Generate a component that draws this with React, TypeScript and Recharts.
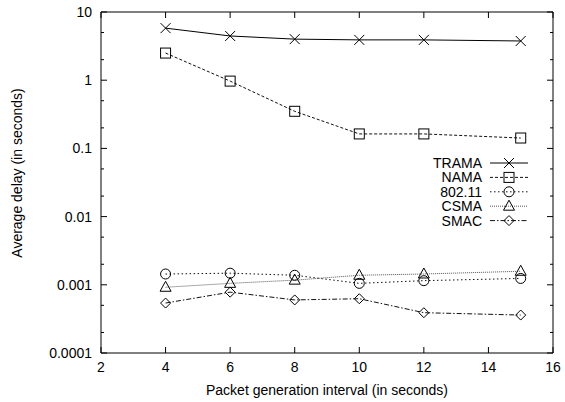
import { LineChart, Line, XAxis, YAxis, ReferenceLine, Legend } from 'recharts';

const intervals = [4, 6, 8, 10, 12, 15];
const tramaDelay = [5.8, 4.45, 4.0, 3.9, 3.9, 3.76];
const namaDelay = [2.5, 0.97, 0.35, 0.163, 0.163, 0.142];
const ieeeDelay = [0.00144, 0.00148, 0.00138, 0.00105, 0.00115, 0.00124];
const csmaDelay = [0.00092, 0.00105, 0.00117, 0.00138, 0.00144, 0.00158];
const smacDelay = [0.00054, 0.00078, 0.0006, 0.000625, 0.00039, 0.00036];

const xTicks = [2, 4, 6, 8, 10, 12, 14, 16];
const yMajorTicks = [0.0001, 0.001, 0.01, 0.1, 1, 10];
const yMajorLabels = ['0.0001', '0.001', '0.01', '0.1', '1', '10'];
const yMinorTicks = [0.0002, 0.0005, 0.002, 0.005, 0.02, 0.05, 0.2, 0.5, 2, 5];

const data = intervals.map((x, i) => ({
  x,
  trama: tramaDelay[i],
  nama: namaDelay[i],
  ieee: ieeeDelay[i],
  csma: csmaDelay[i],
  smac: smacDelay[i],
}));

const series = [
  { key: 'trama', name: 'TRAMA', dash: undefined, color: '#000', shape: 'cross' },
  { key: 'nama', name: 'NAMA', dash: '3 2', color: '#111', shape: 'square' },
  { key: 'ieee', name: '802.11', dash: '1.5 2.5', color: '#111', shape: 'circle' },
  { key: 'csma', name: 'CSMA', dash: '1 1', color: '#555', shape: 'triangle' },
  { key: 'smac', name: 'SMAC', dash: '5 2 1.5 2', color: '#111', shape: 'diamond' },
];

// plot box in svg pixels, used for the inward gnuplot-style ticks
const LEFT = 101;
const RIGHT = 553;
const TOP = 12;
const BOTTOM = 353;
const FONT = '"Liberation Sans", Arial, sans-serif';

function Marker({ cx, cy, shape }: { cx: number; cy: number; shape: string }) {
  const s = 5;
  const common = { fill: 'none', stroke: '#000', strokeWidth: 1 };
  if (shape === 'cross')
    return (
      <g {...common}>
        <line x1={cx - s} y1={cy - s} x2={cx + s} y2={cy + s} />
        <line x1={cx - s} y1={cy + s} x2={cx + s} y2={cy - s} />
      </g>
    );
  if (shape === 'square') return <rect x={cx - s} y={cy - s} width={2 * s} height={2 * s} {...common} />;
  if (shape === 'circle') return <circle cx={cx} cy={cy} r={s} {...common} />;
  if (shape === 'triangle')
    return <polygon points={`${cx},${cy - s - 1} ${cx + s + 0.5},${cy + s - 1} ${cx - s - 0.5},${cy + s - 1}`} {...common} />;
  return <polygon points={`${cx},${cy - s} ${cx + s},${cy} ${cx},${cy + s} ${cx - s},${cy}`} {...common} />;
}

function XTick(props: any) {
  const { x, payload } = props;
  return (
    <g>
      <line x1={x} y1={BOTTOM} x2={x} y2={BOTTOM - 6} stroke="#000" />
      <line x1={x} y1={TOP} x2={x} y2={TOP + 6} stroke="#000" />
      <text x={x} y={BOTTOM + 19} textAnchor="middle" fontSize={14} fontFamily={FONT} fill="#000">
        {payload.value}
      </text>
    </g>
  );
}

function YTick(props: any) {
  const { y, payload } = props;
  const idx = yMajorTicks.indexOf(payload.value);
  const len = idx >= 0 ? 6 : 3;
  return (
    <g>
      <line x1={LEFT} y1={y} x2={LEFT + len} y2={y} stroke="#000" />
      <line x1={RIGHT} y1={y} x2={RIGHT - len} y2={y} stroke="#000" />
      {idx >= 0 && (
        <text x={LEFT - 9} y={y + 5} textAnchor="end" fontSize={14} fontFamily={FONT} fill="#000">
          {yMajorLabels[idx]}
        </text>
      )}
    </g>
  );
}

function LegendBox() {
  return (
    <svg width={140} height={80} style={{ display: 'block' }}>
      {series.map((s, i) => {
        const y = 8 + i * 14.4;
        return (
          <g key={s.key}>
            <text x={82} y={y + 5} textAnchor="end" fontSize={14} fontFamily={FONT} fill="#000">
              {s.name}
            </text>
            <line x1={90} y1={y} x2={128} y2={y} stroke={s.color} strokeDasharray={s.dash} />
            <Marker cx={109} cy={y} shape={s.shape} />
          </g>
        );
      })}
    </svg>
  );
}

export default function App() {
  return (
    <div style={{ position: 'absolute', left: 0, top: 0, width: 565, height: 402, background: '#fff' }}>
      <LineChart width={565} height={402} data={data} margin={{ top: 12, right: 12, left: 0, bottom: 0 }}>
        <XAxis
          dataKey="x"
          type="number"
          domain={[2, 16]}
          ticks={xTicks}
          interval={0}
          height={49}
          tickSize={0}
          tickMargin={0}
          tick={<XTick />}
          axisLine={{ stroke: '#000' }}
          label={() => (
            <text x={327} y={395} textAnchor="middle" fontSize={14} fontFamily={FONT} fill="#000">
              Packet generation interval (in seconds)
            </text>
          )}
        />
        <YAxis
          type="number"
          scale="log"
          domain={[0.0001, 10]}
          allowDataOverflow
          ticks={[...yMajorTicks, ...yMinorTicks].sort((a, b) => a - b)}
          interval={0}
          width={101}
          tickSize={0}
          tickMargin={0}
          tick={<YTick />}
          axisLine={{ stroke: '#000' }}
          label={() => (
            <text
              x={22}
              y={173}
              transform="rotate(-90 22 173)"
              textAnchor="middle"
              fontSize={14}
              fontFamily={FONT}
              fill="#000"
            >
              Average delay (in seconds)
            </text>
          )}
        />
        <ReferenceLine y={10} stroke="#000" />
        <ReferenceLine x={16} stroke="#000" />
        <Legend
          layout="vertical"
          align="center"
          verticalAlign="middle"
          content={() => <LegendBox />}
          wrapperStyle={{ left: 400, top: 155, width: 140, height: 80 }}
        />
        {series.map((s) => (
          <Line
            key={s.key}
            dataKey={s.key}
            name={s.name}
            type="linear"
            stroke={s.color}
            strokeWidth={1}
            strokeDasharray={s.dash}
            isAnimationActive={false}
            dot={(p: any) => <Marker key={`${s.key}-${p.index}`} cx={p.cx} cy={p.cy} shape={s.shape} />}
            activeDot={false}
          />
        ))}
      </LineChart>
    </div>
  );
}
